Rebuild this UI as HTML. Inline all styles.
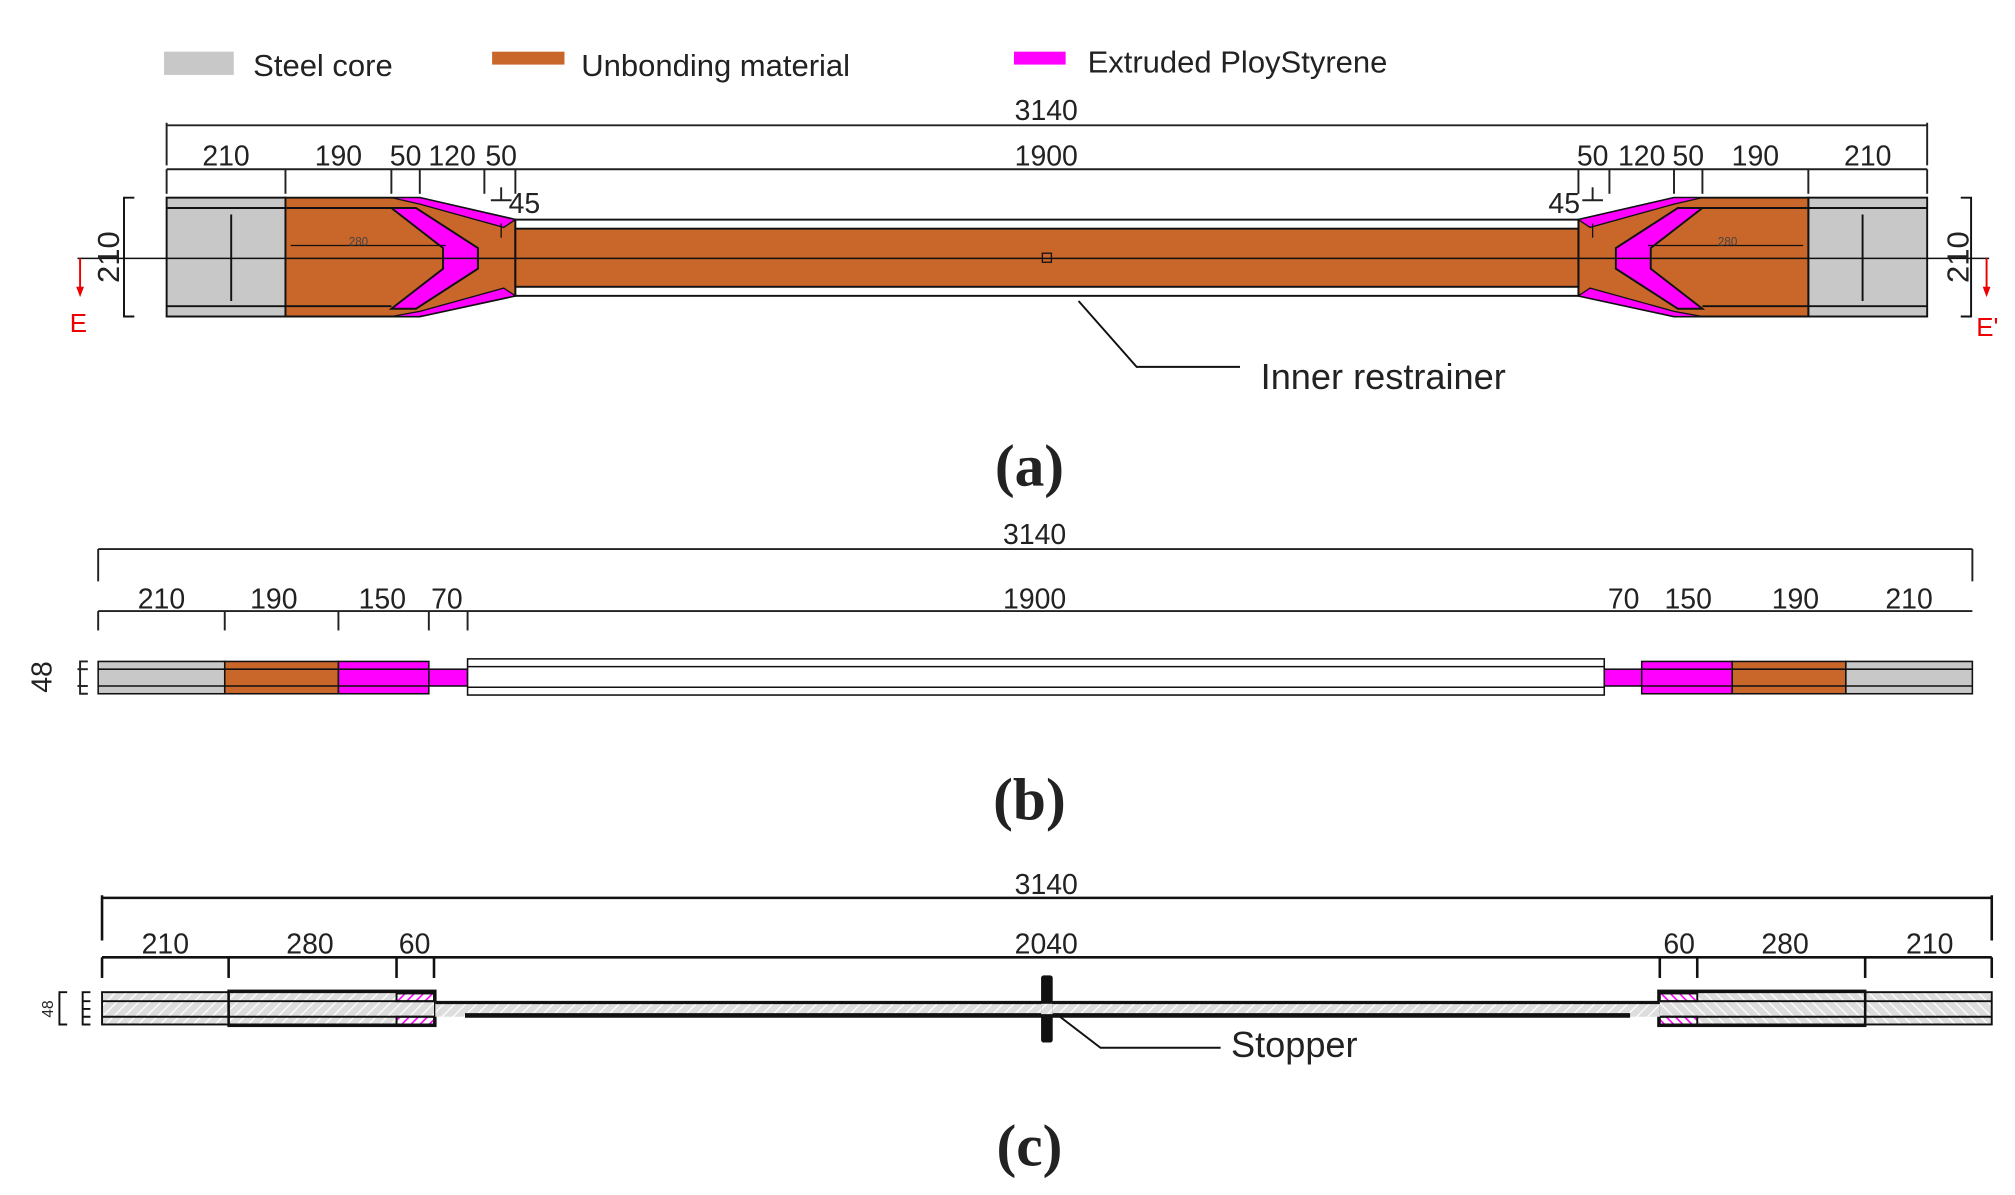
<!DOCTYPE html>
<html><head><meta charset="utf-8"><style>
html,body{margin:0;padding:0;background:#fff;}
svg{display:block;}
text{font-family:"Liberation Sans",sans-serif;fill:#222;}
</style></head><body>
<svg width="2015" height="1195" viewBox="0 0 1560 925" preserveAspectRatio="none" xmlns="http://www.w3.org/2000/svg">
<defs>
<pattern id="h" width="6" height="6" patternUnits="userSpaceOnUse" patternTransform="rotate(45)">
<rect width="6" height="6" fill="#ddd"/><line x1="0" y1="0" x2="0" y2="6" stroke="#fff" stroke-width="2"/></pattern>
<pattern id="hm" width="5" height="5" patternUnits="userSpaceOnUse" patternTransform="rotate(45)">
<rect width="5" height="5" fill="#fff"/><line x1="0" y1="0" x2="0" y2="5" stroke="#f0f" stroke-width="2.5"/></pattern>
</defs>
<!-- legend -->
<rect x="127" y="40" width="54" height="18" fill="#c8c8c8"/>
<text x="196" y="59" font-size="24">Steel core</text>
<rect x="381" y="40" width="56" height="10" fill="#c9662a"/>
<text x="450" y="59" font-size="24">Unbonding material</text>
<rect x="785" y="40" width="40" height="10" fill="#f0f"/>
<text x="842" y="56" font-size="24">Extruded PloyStyrene</text>

<!-- (a) dims -->
<g stroke="#222" stroke-width="1.5" fill="none">
<line x1="129" y1="97" x2="1492" y2="97"/>
<line x1="129" y1="95" x2="129" y2="128"/><line x1="1492" y1="95" x2="1492" y2="128"/>
<line x1="129" y1="131" x2="1492" y2="131"/>
<g id="at"><line x1="129" y1="131" x2="129" y2="150"/><line x1="221" y1="131" x2="221" y2="150"/><line x1="303" y1="131" x2="303" y2="150"/><line x1="325" y1="131" x2="325" y2="150"/><line x1="375" y1="131" x2="375" y2="150"/><line x1="399" y1="131" x2="399" y2="150"/><line x1="388" y1="145" x2="388" y2="155"/><line x1="380" y1="155" x2="396" y2="155"/></g>
<use href="#at" transform="translate(1621,0) scale(-1,1)"/>
</g>
<g font-size="22" text-anchor="middle">
<text x="810" y="93">3140</text><text x="810" y="128">1900</text>
<text x="175" y="128">210</text><text x="262" y="128">190</text><text x="314" y="128">50</text><text x="350" y="128">120</text><text x="388" y="128">50</text>
<text x="1446" y="128">210</text><text x="1359" y="128">190</text><text x="1307" y="128">50</text><text x="1271" y="128">120</text><text x="1233" y="128">50</text>
<text x="406" y="165">45</text><text x="1211" y="165">45</text>
</g>
<!-- (a) body -->
<g id="ab" stroke="#111" stroke-width="1.5">
<rect x="129" y="153" width="92" height="92" fill="#c8c8c8"/>
<line x1="129" y1="161" x2="221" y2="161"/><line x1="129" y1="237" x2="221" y2="237"/>
<line x1="179" y1="166" x2="179" y2="233"/>
<polygon points="221,153 325,153 399,170 399,229 325,245 221,245" fill="#c9662a"/>
<line x1="221" y1="161" x2="303" y2="161"/><line x1="221" y1="237" x2="303" y2="237"/>
<polygon points="303,153 325,153 399,170 390,176 325,158" fill="#f0f" stroke-width="1"/>
<polygon points="303,245 325,245 399,229 390,223 325,241" fill="#f0f" stroke-width="1"/>
<polygon points="303,161 322,161 370,192 370,208 322,239 303,239 343,208 343,192" fill="#f0f"/>
<line x1="225" y1="190" x2="345" y2="190" stroke-width="1"/>
<line x1="388" y1="173" x2="388" y2="184" stroke-width="1"/>
</g>
<use href="#ab" transform="translate(1621,0) scale(-1,1)"/>
<rect x="399" y="170" width="823" height="59" fill="#fff" stroke="#111" stroke-width="1.5"/>
<rect x="399" y="177" width="823" height="45" fill="#c9662a" stroke="#111" stroke-width="1.5"/>
<line x1="60" y1="200" x2="1540" y2="200" stroke="#111" stroke-width="1.2"/>
<rect x="807" y="196" width="7" height="7" fill="none" stroke="#111"/>
<g font-size="9" fill="#444"><text x="270" y="190" style="fill:#444">280</text><text x="1330" y="190" style="fill:#444">280</text></g>
<g stroke="#111" stroke-width="1.5" fill="none">
<path d="M104,153 H96 V245 H104"/><path d="M1518,153 H1526 V245 H1518"/>
<path d="M835,233 L880,284 H960"/>
</g>
<text transform="translate(92,199) rotate(-90)" font-size="24" text-anchor="middle">210</text>
<text transform="translate(1524,199) rotate(-90)" font-size="24" text-anchor="middle">210</text>
<path d="M62,200 V226" stroke="#e00" stroke-width="1.5"/><path d="M1538,200 V226" stroke="#e00" stroke-width="1.5"/>
<path d="M59,222 L62,230 L65,222 Z M1535,222 L1538,230 L1541,222 Z" fill="#e00"/>
<text x="54" y="257" font-size="20" style="fill:#e00">E</text>
<text x="1530" y="260" font-size="20" style="fill:#e00">E'</text>
<text x="976" y="301" font-size="28">Inner restrainer</text>
<text x="797" y="376" font-size="46" font-weight="bold" text-anchor="middle" style="font-family:'Liberation Serif',serif">(a)</text>

<!-- (b) -->
<g stroke="#222" stroke-width="1.5" fill="none">
<line x1="76" y1="425" x2="1527" y2="425"/>
<line x1="76" y1="425" x2="76" y2="450"/><line x1="1527" y1="425" x2="1527" y2="450"/>
<line x1="76" y1="473" x2="1527" y2="473"/>
<g id="bt"><line x1="76" y1="473" x2="76" y2="488"/><line x1="174" y1="473" x2="174" y2="488"/><line x1="262" y1="473" x2="262" y2="488"/><line x1="332" y1="473" x2="332" y2="488"/><line x1="362" y1="473" x2="362" y2="488"/>
<path d="M68,512 H62 V537 H68"/><line x1="60" y1="518" x2="68" y2="518"/><line x1="60" y1="531" x2="68" y2="531"/></g>
</g>
<g font-size="22" text-anchor="middle">
<text x="801" y="421">3140</text><text x="801" y="471">1900</text>
<text x="125" y="471">210</text><text x="212" y="471">190</text><text x="296" y="471">150</text><text x="346" y="471">70</text>
<text x="1478" y="471">210</text><text x="1390" y="471">190</text><text x="1307" y="471">150</text><text x="1257" y="471">70</text>
</g>
<text transform="translate(40,524) rotate(-90)" font-size="22" text-anchor="middle">48</text>
<g id="bb" stroke="#111" stroke-width="1.2">
<rect x="76" y="512" width="98" height="25" fill="#c8c8c8"/>
<rect x="174" y="512" width="88" height="25" fill="#c9662a"/>
<rect x="262" y="512" width="70" height="25" fill="#f0f"/>
<rect x="332" y="518" width="30" height="13" fill="#f0f"/>
<line x1="76" y1="518" x2="332" y2="518"/><line x1="76" y1="531" x2="332" y2="531"/>
</g>
<use href="#bb" transform="translate(1603,0) scale(-1,1)"/>
<rect x="362" y="510" width="880" height="28" fill="#fff" stroke="#111" stroke-width="1.2"/>
<line x1="362" y1="516" x2="1242" y2="516" stroke="#111" stroke-width="1.2"/>
<line x1="362" y1="532" x2="1242" y2="532" stroke="#111" stroke-width="1.2"/>
<text x="797" y="634" font-size="46" font-weight="bold" text-anchor="middle" style="font-family:'Liberation Serif',serif">(b)</text>

<!-- (c) -->
<g stroke="#111" stroke-width="2" fill="none">
<line x1="79" y1="695" x2="1542" y2="695"/>
<line x1="79" y1="693" x2="79" y2="728"/><line x1="1542" y1="693" x2="1542" y2="728"/>
<line x1="79" y1="741" x2="1542" y2="741"/>
<g id="ct"><line x1="79" y1="741" x2="79" y2="757"/><line x1="177" y1="741" x2="177" y2="757"/><line x1="307" y1="741" x2="307" y2="757"/><line x1="336" y1="741" x2="336" y2="757"/></g>
<use href="#ct" transform="translate(1621,0) scale(-1,1)"/>
<path d="M52,768 H46 V793 H52" stroke-width="1.5"/>
<path d="M70,768 H64 V793 H70 M64,775 H70 M64,781 H70 M64,787 H70" stroke-width="1.5"/>
</g>
<g font-size="22" text-anchor="middle">
<text x="810" y="692">3140</text><text x="810" y="738">2040</text>
<text x="128" y="738">210</text><text x="240" y="738">280</text><text x="321" y="738">60</text>
<text x="1494" y="738">210</text><text x="1382" y="738">280</text><text x="1300" y="738">60</text>
</g>
<text transform="translate(41,781) rotate(-90)" font-size="12" text-anchor="middle">48</text>
<g id="cb" stroke="#111" stroke-width="1.5">
<rect x="79" y="768" width="258" height="25" fill="url(#h)"/>
<rect x="177" y="767" width="160" height="27" fill="none" stroke-width="2"/>
<rect x="307" y="769" width="29" height="6" fill="url(#hm)"/>
<rect x="307" y="787" width="29" height="6" fill="url(#hm)"/>
<line x1="79" y1="775" x2="337" y2="775"/><line x1="79" y1="787" x2="337" y2="787"/>
</g>
<use href="#cb" transform="translate(1621,0) scale(-1,1)"/>
<rect x="337" y="775" width="948" height="12" fill="url(#h)"/>
<line x1="337" y1="776" x2="1285" y2="776" stroke="#111" stroke-width="2.5"/>
<line x1="360" y1="786" x2="1262" y2="786" stroke="#111" stroke-width="3.5"/>
<rect x="806" y="755" width="9" height="52" rx="2" fill="#111"/>
<rect x="806" y="777" width="9" height="8" fill="url(#h)"/>
<path d="M818,785 L852,811 H945" stroke="#111" stroke-width="1.5" fill="none"/>
<text x="953" y="818" font-size="28">Stopper</text>
<text x="797" y="902" font-size="46" font-weight="bold" text-anchor="middle" style="font-family:'Liberation Serif',serif">(c)</text>
</svg>
</body></html>
